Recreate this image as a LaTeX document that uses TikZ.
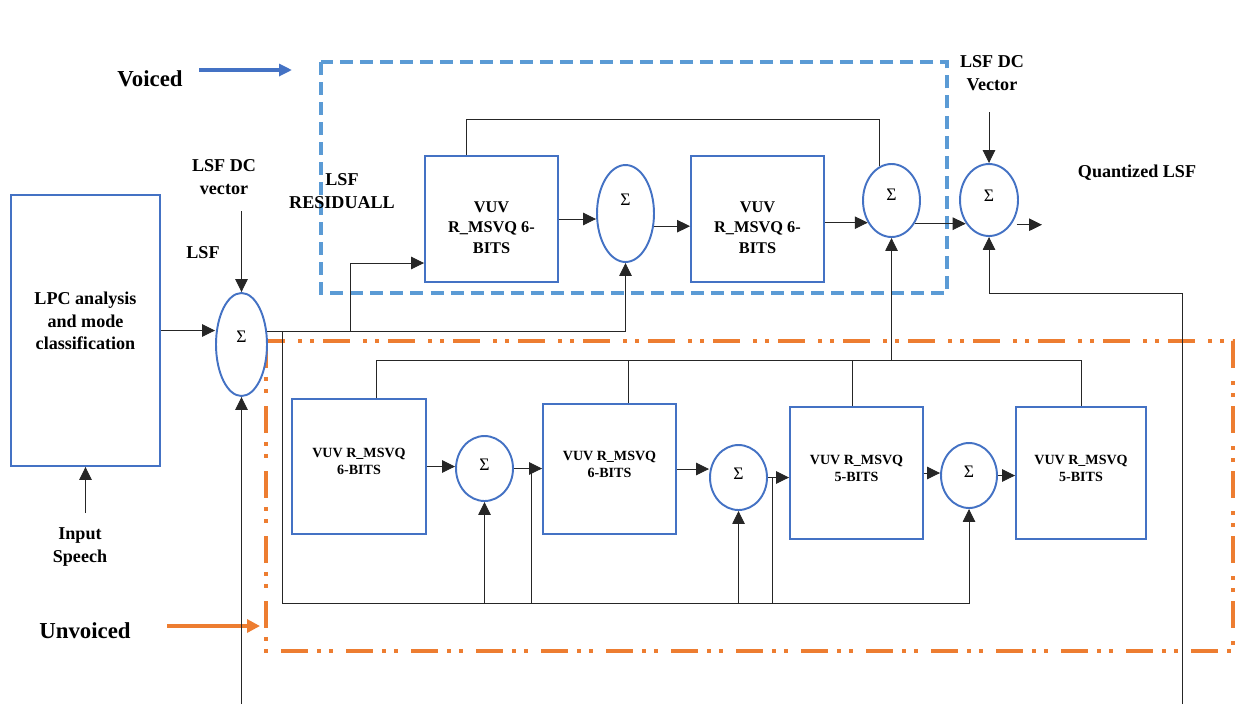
\documentclass[tikz,border=0pt]{standalone}
\usepackage{fontspec}
\setmainfont{Liberation Serif}
\usetikzlibrary{arrows.meta,positioning,shapes.geometric,calc}
\definecolor{keret}{HTML}{4472C4}
\definecolor{szaggat}{HTML}{5B9BD5}
\definecolor{narancs}{HTML}{ED7D31}
\tikzset{
  blokk/.style={draw=keret,line width=1.1pt,fill=white,align=center,inner sep=2pt,
                font=\bfseries\fontsize{8}{9.7}\selectfont,minimum width=2.66cm,minimum height=2.6cm},
  felsoblokk/.style={blokk,font=\bfseries\fontsize{9.3}{11.4}\selectfont,minimum height=2.52cm},
  osszeg/.style={ellipse,draw=keret,line width=1.1pt,fill=white,inner sep=0pt,text depth=4pt,
                 font=\fontsize{10}{12}\selectfont,minimum width=1.14cm,minimum height=1.3cm},
  nyil/.style={-{Triangle[length=2.6mm,width=2.5mm]},line width=0.5pt,draw=black!85},
  vonal/.style={line width=0.5pt,draw=black!85},
  cimke/.style={font=\bfseries\fontsize{10.3}{13}\selectfont,align=center},
  nagycimke/.style={font=\bfseries\fontsize{13}{15}\selectfont},
  hangos/.style={draw=szaggat,line width=1.8pt,dash pattern=on 7.4pt off 4pt},
  zongetlen/.style={draw=narancs,line width=1.8pt,
                    dash pattern=on 15.4pt off 5pt on 2.3pt off 4.5pt on 2.3pt off 7.5pt},
  kekny/.style={-{Triangle[length=2.6mm,width=2.4mm]},draw=keret,line width=1.8pt},
  narny/.style={-{Triangle[length=2.6mm,width=2.6mm]},draw=narancs,line width=1.8pt},
}

\begin{document}
\begin{tikzpicture}[x=0.02cm,y=-0.02cm]
  \useasboundingbox (0,0) rectangle (1237,704);
  % keretek
  \draw[hangos] (321,62) rectangle (947,293);
  \draw[zongetlen] (266,341) rectangle (1233,651);

  % bal oldal
  \node[blokk,font=\bfseries\fontsize{10.3}{13}\selectfont,minimum width=2.98cm,minimum height=5.42cm]
    (lpc) at (85.5,330.5) {LPC analysis\\and mode\\classification\\[-2pt]};
  \node[osszeg,minimum width=1.02cm,minimum height=2.06cm,text depth=8.6pt] (s1) at (241.5,344.5) {Σ};

  % zongetett ag
  \node[felsoblokk] (u1) at (491.5,219) {\\[4.6pt]VUV\\R\_MSVQ 6-\\BITS};
  \node[osszeg,minimum height=1.94cm,text depth=15.4pt] (su2) at (625.5,213.5) {Σ};
  \node[felsoblokk] (u2) at (757.5,219) {\\[4.6pt]VUV\\R\_MSVQ 6-\\BITS};
  \node[osszeg,minimum height=1.46cm,text depth=6pt] (su3) at (891.5,200.5) {Σ};
  \node[osszeg,minimum width=1.16cm,minimum height=1.44cm,text depth=4.6pt] (sv) at (989,200) {Σ};

  % zongetlen ag
  \node[blokk,minimum width=2.68cm,minimum height=2.7cm] (l1) at (359,466.5) {VUV R\_MSVQ\\6-BITS\\[-4pt]};
  \node[osszeg] (sl1) at (484.5,468.5) {Σ};
  \node[blokk] (l2) at (609.5,469) {VUV R\_MSVQ\\6-BITS\\[-4pt]};
  \node[osszeg] (sl2) at (738.5,477.5) {Σ};
  \node[blokk,minimum height=2.64cm] (l3) at (856.5,473) {VUV R\_MSVQ\\5-BITS\\[-4pt]};
  \node[osszeg,minimum width=1.12cm] (sl3) at (969,475.5) {Σ};
  \node[blokk,minimum width=2.6cm,minimum height=2.64cm] (l4) at (1081,473) {VUV R\_MSVQ\\5-BITS\\[-4pt]};

  % feliratok
  \node[nagycimke] (hang) at (150,79) {Voiced};
  \node[nagycimke] (zong) at (85,631) {Unvoiced};
  \node[cimke] (dc1) at (224,177) {LSF DC\\vector};
  \node[cimke] (lsf) at (203,253) {LSF};
  \node[cimke] (maradek) at (342,191) {LSF\\RESIDUALL};
  \node[cimke] (dc2) at (992,73) {LSF DC\\Vector};
  \node[cimke] (kvant) at (1137,173) {Quantized LSF};
  \node[cimke] (bemenet) at (80,547) {Input\\Speech};

  \coordinate (hang1) at (199,70);
  \coordinate (hang2) at (292,70);
  \coordinate (zong1) at (167,626);
  \coordinate (zong2) at (260,626);
  \coordinate (gyujto) at (0,360);
  \coordinate (alja) at (0,603);
  \coordinate (kimenet) at (1042,224);
  \coordinate (jobb) at (1182,704);

  \draw[kekny] (hang1) -- (hang2);
  \draw[narny] (zong1) -- (zong2);

  % bemenetek
  \draw[nyil] (lpc.south |- 0,513) -- (lpc.south);
  \draw[nyil] (lpc.east) -- (lpc.east -| s1.west);
  \draw[nyil] (s1.north |- 0,211) -- (s1.north);
  \draw[nyil] (s1.south |- 0,704) -- (s1.south);

  % maradek elosztasa
  \draw[nyil] (s1.27) -| (su2.south);
  \draw[nyil] (s1.27 -| 350,0) |- (u1.west |- 0,263);
  \draw[nyil] (s1.27 -| 282,0) |- (sl3.south |- alja) -- (sl3.south);
  \draw[nyil] (sl1.south |- alja) -- (sl1.south);
  \draw[nyil] (sl2.south |- alja) -- (sl2.south);
  \draw[vonal] (sl1.east -| 531,0) -- (531,603);
  \draw[vonal] (sl2.east -| 772,0) -- (772,603);

  % felso lanc
  \draw[nyil] (u1.east) -- (u1.east -| su2.west);
  \draw[nyil] (su2.-24) -- (su2.-24 -| u2.west);
  \draw[nyil] (su3.223 -| u2.east) -- (su3.223);
  \draw[nyil] (su3.-45) -- (su3.-45 -| sv.225);
  \draw[nyil,shorten <=3pt] (sv.-48) -- (sv.-48 -| kimenet);
  \draw[vonal] ([xshift=-5.1mm]u1.north) |- (su3.109 |- 0,119) -- (su3.109);
  \draw[nyil] (sv.north |- 0,112) -- (sv.north);
  \draw[nyil] (jobb) |- (sv.south |- 0,293) -- (sv.south);

  % also lanc
  \draw[nyil] (l1.east) -- (l1.east -| sl1.west);
  \draw[nyil] (sl1.east) -- (sl1.east -| l2.west);
  \draw[nyil] (l2.east) -- (l2.east -| sl2.west);
  \draw[nyil] (sl2.east) -- (sl2.east -| l3.west);
  \draw[nyil] (l3.east) -- (l3.east -| sl3.west);
  \draw[nyil] (sl3.east) -- (sl3.east -| l4.west);
  \draw[vonal] ([xshift=3.4mm]l1.north) |- (l4.north |- gyujto) -- (l4.north);
  \draw[vonal] ([xshift=3.7mm]l2.north) -- ([xshift=3.7mm]l2.north |- gyujto);
  \draw[vonal] ([xshift=-0.9mm]l3.north) -- ([xshift=-0.9mm]l3.north |- gyujto);
  \draw[nyil] (su3.south |- gyujto) -- (su3.south);
\end{tikzpicture}
\end{document}
